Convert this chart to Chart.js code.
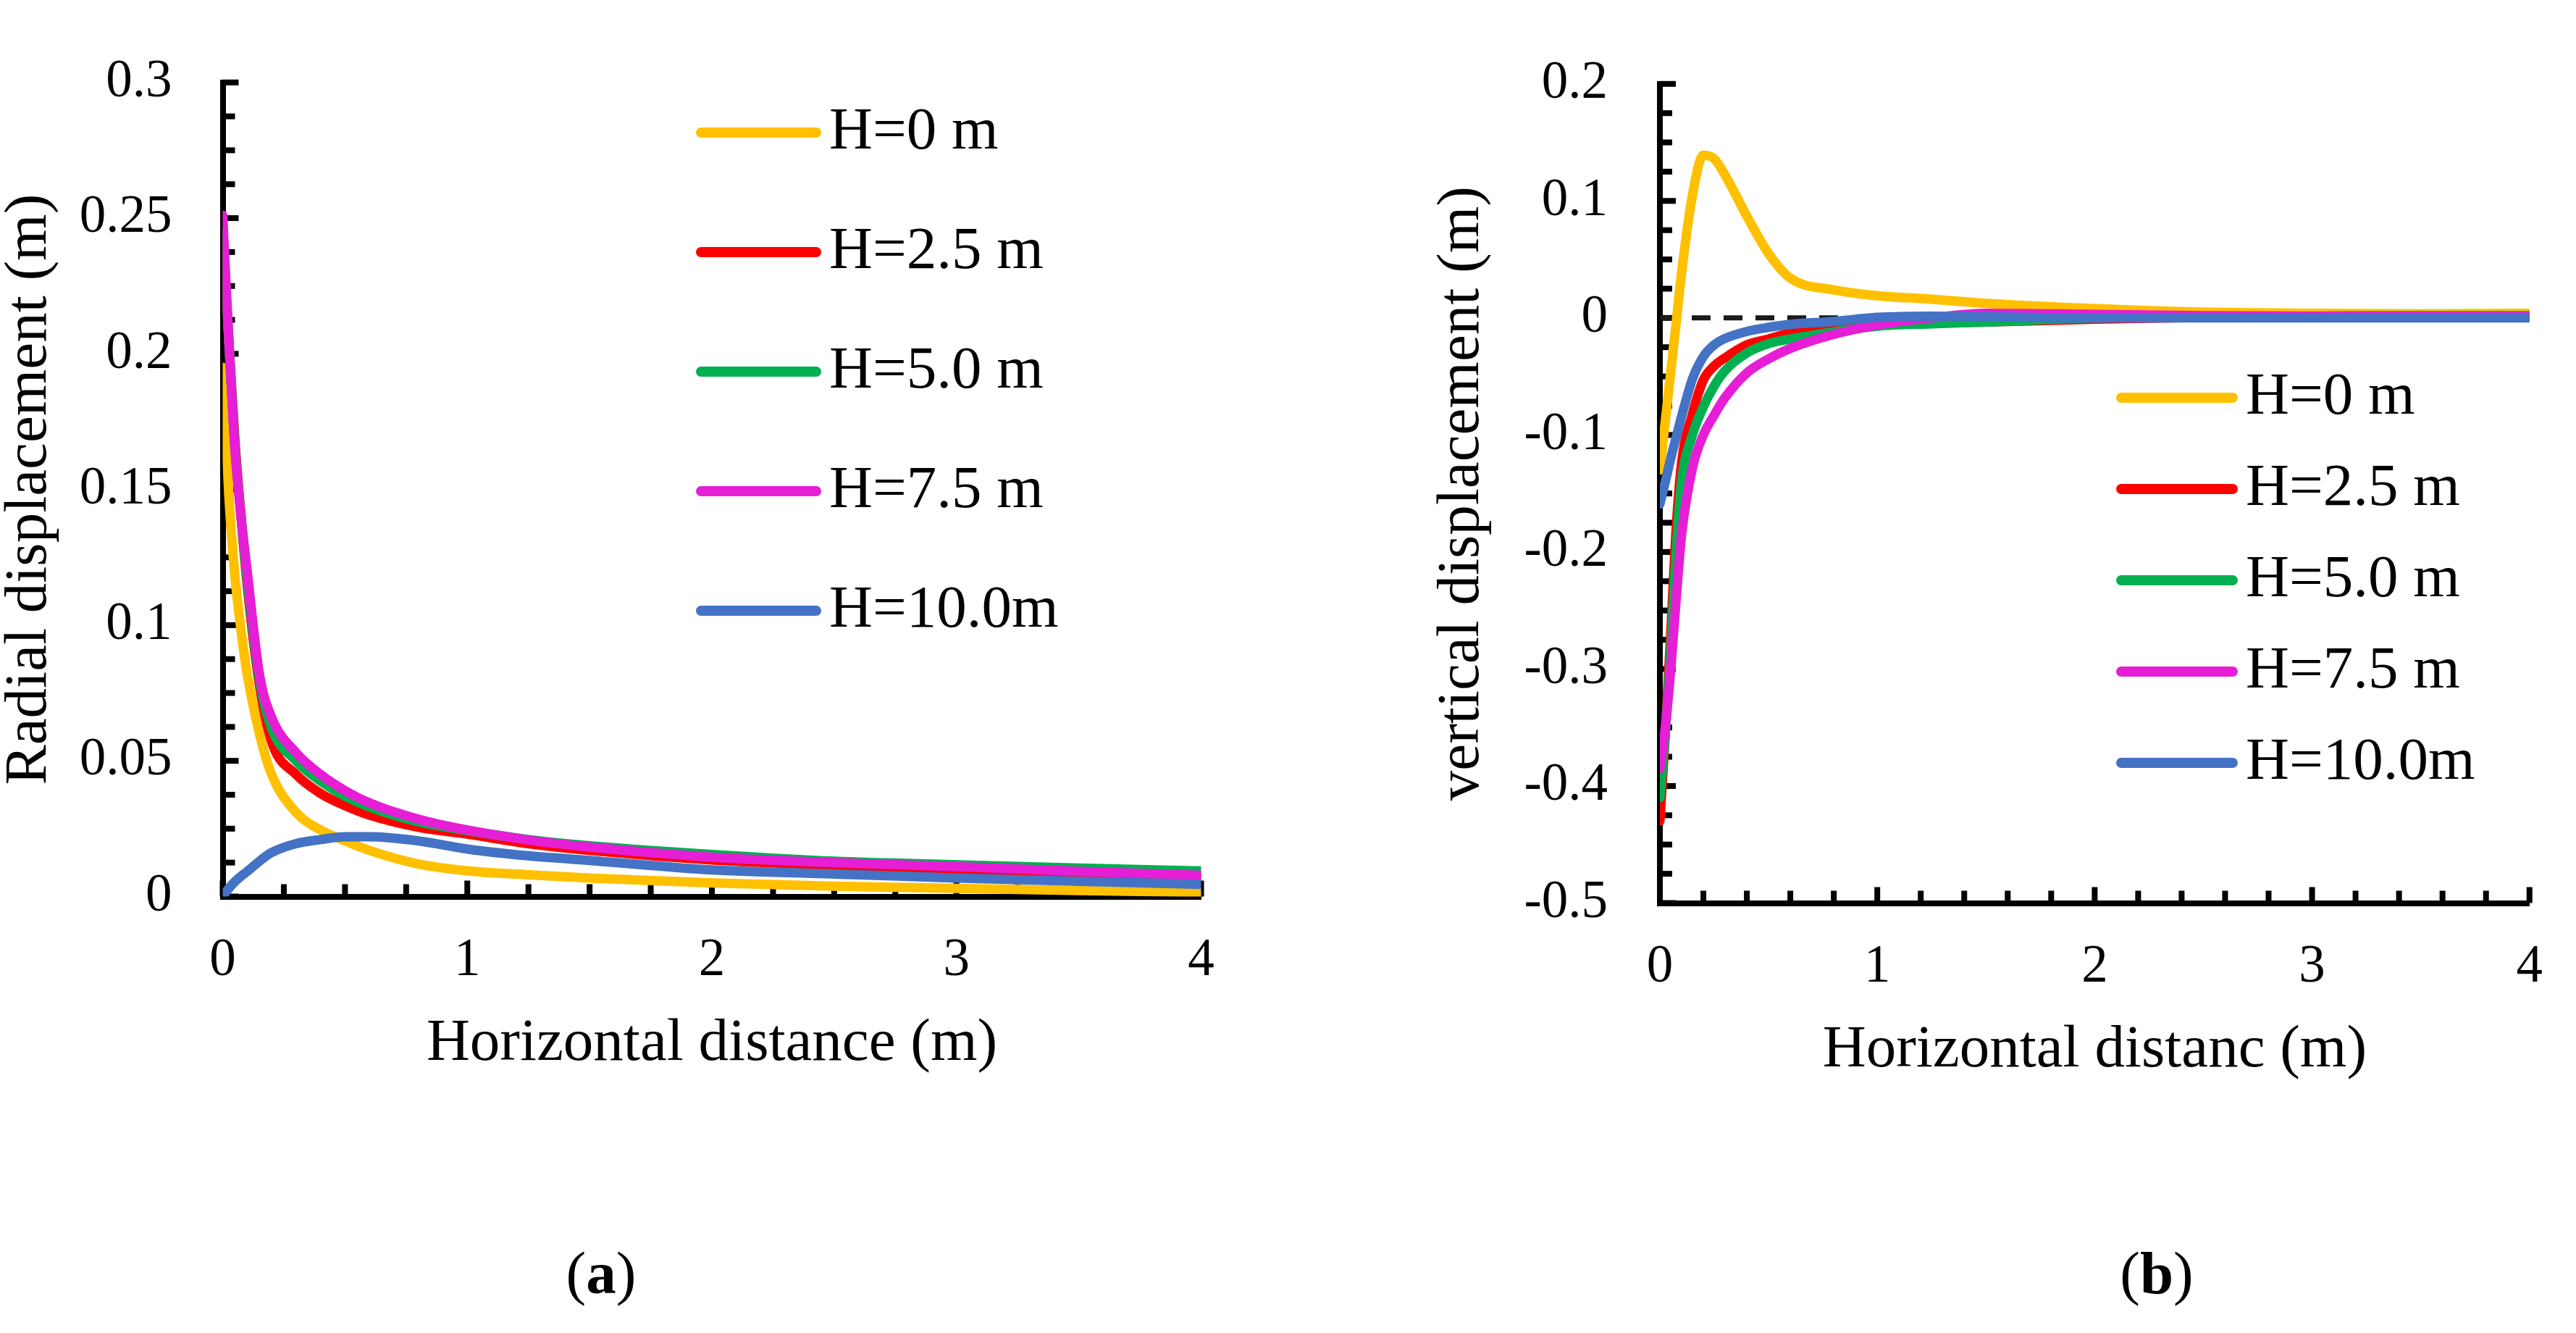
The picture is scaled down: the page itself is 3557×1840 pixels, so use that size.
<!DOCTYPE html>
<html>
<head>
<meta charset="utf-8">
<script src="https://cdn.jsdelivr.net/npm/chart.js@4.4.0/dist/chart.umd.min.js"></script>
<style>
html, body { margin: 0; padding: 0; background: #fff; }
#wrap { position: relative; width: 3557px; height: 1840px; overflow: hidden; background: #fff; }
#wrap canvas { position: absolute; left: 0; top: 0; }
.tag { position: absolute; font-family: 'Liberation Serif', 'Times New Roman', serif; font-size: 83px; line-height: 1; color: #000; transform: translate(-50%, -50%); white-space: nowrap; }
</style>
</head>
<body>
<div id="wrap">
  <canvas id="chartA" width="3557" height="1840"></canvas>
  <canvas id="chartB" width="3557" height="1840"></canvas>
  <div class="tag" style="left:830px; top:1757px">(<b>a</b>)</div>
  <div class="tag" style="left:2978px; top:1757px">(<b>b</b>)</div>
</div>
<script>
// panel (a): radial displacement
const distA = [0, 0.025, 0.05, 0.075, 0.1, 0.15, 0.2, 0.3, 0.4, 0.5, 0.6, 0.8, 1.0, 1.25, 1.5, 2.0, 2.5, 3.0, 3.5, 4.0];
const radialH0   = [0.195, 0.148, 0.118, 0.098, 0.082, 0.060, 0.045, 0.031, 0.0245, 0.0205, 0.017, 0.012, 0.0095, 0.008, 0.0068, 0.005, 0.0038, 0.003, 0.0022, 0.0015];
const radialH25  = [0.243, 0.205, 0.168, 0.140, 0.115, 0.078, 0.057, 0.045, 0.038, 0.0335, 0.030, 0.0255, 0.023, 0.0195, 0.017, 0.0135, 0.0115, 0.0097, 0.0083, 0.0070];
const radialH50  = [0.245, 0.205, 0.166, 0.140, 0.117, 0.080, 0.062, 0.050, 0.0425, 0.037, 0.033, 0.0275, 0.0243, 0.021, 0.0187, 0.0155, 0.013, 0.0117, 0.0105, 0.0094];
const radialH75  = [0.251, 0.205, 0.165, 0.140, 0.120, 0.082, 0.066, 0.053, 0.045, 0.039, 0.0345, 0.0285, 0.0245, 0.0208, 0.0182, 0.0145, 0.0125, 0.011, 0.0093, 0.0078];
const radialH100 = [0, 0.003, 0.0055, 0.0075, 0.0092, 0.013, 0.0162, 0.0195, 0.021, 0.022, 0.022, 0.0205, 0.0175, 0.015, 0.0133, 0.0098, 0.0083, 0.0068, 0.0056, 0.0045];

// panel (b): vertical displacement
const distB = [0, 0.025, 0.05, 0.075, 0.1, 0.15, 0.2, 0.25, 0.3, 0.4, 0.5, 0.6, 0.8, 1.0, 1.25, 1.5, 2.0, 2.5, 3.0, 3.5, 4.0];
const vertH0   = [-0.13, -0.088, -0.046, -0.004, 0.039, 0.105, 0.139, 0.136, 0.122, 0.087, 0.055, 0.034, 0.024, 0.019, 0.016, 0.0125, 0.008, 0.005, 0.004, 0.0035, 0.004];
const vertH25  = [-0.43, -0.355, -0.27, -0.18, -0.124, -0.082, -0.053, -0.041, -0.034, -0.023, -0.018, -0.0128, -0.008, -0.005, -0.004, -0.0035, -0.001, 0.0005, 0.001, 0.0012, 0.0014];
const vertH50  = [-0.41, -0.355, -0.285, -0.20, -0.14, -0.10, -0.076, -0.058, -0.045, -0.030, -0.022, -0.018, -0.012, -0.007, -0.005, -0.0035, 0.0, 0.001, 0.0015, 0.002, 0.002];
const vertH75  = [-0.385, -0.35, -0.30, -0.24, -0.185, -0.128, -0.10, -0.083, -0.068, -0.047, -0.035, -0.026, -0.014, -0.006, 0.0, 0.004, 0.003, 0.002, 0.0015, 0.0013, 0.0013];
const vertH100 = [-0.159, -0.14, -0.12, -0.102, -0.084, -0.052, -0.033, -0.023, -0.0175, -0.0115, -0.008, -0.0055, -0.003, 0.0005, 0.0015, 0.001, 0, 0, 0, 0, 0];
const zeroX = [0, 4];
const zeroY = [0, 0];

const labels = ['H=0 m', 'H=2.5 m', 'H=5.0 m', 'H=7.5 m', 'H=10.0m'];
const colors = ['#FFC000', '#FF0000', '#00B050', '#E61ED6', '#4472C4'];

const serif = "'Liberation Serif', 'Times New Roman', serif";
const tickFont = { family: serif, size: 73, lineHeight: 1.2 };
const titleFont = { family: serif, size: 83, lineHeight: 1 };

function series(i, xs, ys) {
  return {
    label: labels[i],
    data: xs.map((x, k) => ({ x: x, y: ys[k] })),
    borderColor: colors[i],
    backgroundColor: colors[i],
    borderWidth: 13,
    pointRadius: 0,
    cubicInterpolationMode: 'monotone',
    borderCapStyle: 'round',
    borderJoinStyle: 'round',
    order: 5 - i
  };
}

function nearMultiple(v, step) {
  return Math.abs(v / step - Math.round(v / step)) < 1e-6;
}

// tick marks that point into the plot, like the original
const innerTicks = {
  id: 'innerTicks',
  beforeDatasetsDraw(chart, args, opts) {
    const ctx = chart.ctx;
    const xs = chart.scales.x, ys = chart.scales.y;
    ctx.save();
    ctx.fillStyle = '#000';
    xs.ticks.forEach(t => {
      const px = xs.getPixelForValue(t.value);
      const len = t.label ? opts.major : opts.minor;
      ctx.fillRect(px - opts.width / 2, xs.top - len, opts.width, len);
    });
    ys.ticks.forEach(t => {
      const py = ys.getPixelForValue(t.value);
      const len = t.label ? opts.major : opts.minor;
      ctx.fillRect(ys.right, py - opts.width / 2, len, opts.width);
    });
    ctx.restore();
  }
};

const lineLegend = {
  id: 'lineLegend',
  afterDatasetsDraw(chart, args, opts) {
    const ctx = chart.ctx;
    ctx.save();
    ctx.font = '83px ' + serif;
    ctx.textBaseline = 'middle';
    ctx.textAlign = 'left';
    ctx.lineCap = 'round';
    let row = 0;
    chart.data.datasets.forEach(ds => {
      if (ds.noLegend) return;
      const y = opts.y + row * opts.gap;
      ctx.strokeStyle = ds.borderColor;
      ctx.lineWidth = 14;
      ctx.beginPath();
      ctx.moveTo(opts.x + 7, y);
      ctx.lineTo(opts.x + opts.len - 7, y);
      ctx.stroke();
      ctx.fillStyle = '#000';
      ctx.fillText(ds.label, opts.x + opts.len + 11, y);
      row++;
    });
    ctx.restore();
  }
};

function axisX(title, step, height) {
  return {
    type: 'linear', min: 0, max: 4,
    afterFit: s => { s.height = height; },
    ticks: {
      stepSize: step, autoSkip: false, maxRotation: 0, minRotation: 0,
      padding: 46, color: '#000', font: tickFont,
      callback: v => nearMultiple(v, 1) ? String(Math.round(v)) : ''
    },
    grid: { display: true, drawOnChartArea: false, drawTicks: false },
    border: { display: true, color: '#000', width: 8 },
    title: { display: true, text: title, color: '#000', font: titleFont, padding: 0 }
  };
}

function axisY(title, min, max, step, major, width, pad) {
  return {
    type: 'linear', min: min, max: max,
    afterFit: s => { s.width = width; },
    ticks: {
      stepSize: step, autoSkip: false, padding: pad, color: '#000', font: tickFont,
      callback: v => nearMultiple(v, major) ? String(Number(v.toFixed(2)) + 0) : ''
    },
    grid: { display: true, drawOnChartArea: false, drawTicks: false },
    border: { display: true, color: '#000', width: 8 },
    title: { display: true, text: title, color: '#000', font: titleFont, padding: 0 }
  };
}

new Chart(document.getElementById('chartA'), {
  type: 'line',
  data: {
    datasets: [
      series(0, distA, radialH0),
      series(1, distA, radialH25),
      series(2, distA, radialH50),
      series(3, distA, radialH75),
      series(4, distA, radialH100)
    ]
  },
  options: {
    responsive: false, animation: false, devicePixelRatio: 1,
    layout: { padding: { left: 0, top: 43.5, right: 3557 - 1658.5, bottom: 1840 - 1237.5 - 245 } },
    plugins: {
      legend: { display: false },
      tooltip: { enabled: false },
      innerTicks: { width: 8, minor: 17, major: 22 },
      lineLegend: { x: 961, y: 183, gap: 165, len: 173 }
    },
    scales: {
      x: axisX('Horizontal distance (m)', 0.25, 245),
      y: axisY('Radial displacement (m)', 0, 0.3, 0.0125, 0.05, 307.5, 70)
    }
  },
  plugins: [innerTicks, lineLegend]
});

new Chart(document.getElementById('chartB'), {
  type: 'line',
  data: {
    datasets: [
      series(0, distB, vertH0),
      series(1, distB, vertH25),
      series(2, distB, vertH50),
      series(3, distB, vertH75),
      series(4, distB, vertH100),
      {
        label: 'zero', noLegend: true,
        data: zeroX.map((x, k) => ({ x: x, y: zeroY[k] })),
        borderColor: '#1a1a1a', borderWidth: 7, borderDash: [26, 18],
        pointRadius: 0, order: 9
      }
    ]
  },
  options: {
    responsive: false, animation: false, devicePixelRatio: 1,
    layout: { padding: { left: 2292 - 314.5, top: 44.5, right: 3557 - 3521, bottom: 1840 - 1246.5 - 245.5 } },
    plugins: {
      legend: { display: false },
      tooltip: { enabled: false },
      innerTicks: { width: 8, minor: 17, major: 22 },
      lineLegend: { x: 2922, y: 549, gap: 126, len: 168 }
    },
    scales: {
      x: axisX('Horizontal distanc (m)', 0.2, 245.5),
      y: axisY('vertical displacement (m)', -0.5, 0.2, 0.025, 0.1, 314.5, 72)
    }
  },
  plugins: [innerTicks, lineLegend]
});
</script>
</body>
</html>
